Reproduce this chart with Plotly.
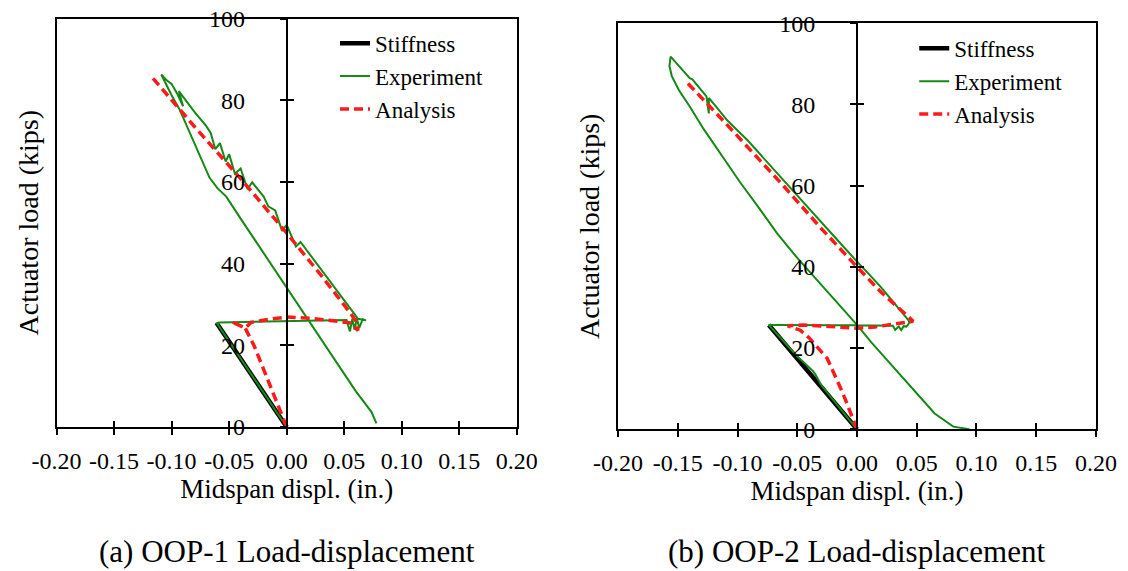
import plotly.graph_objects as go

# ---------------- data ----------------
x_tick_vals = [-0.20, -0.15, -0.10, -0.05, 0.00, 0.05, 0.10, 0.15, 0.20]
x_tick_text = ["-0.20", "-0.15", "-0.10", "-0.05", "0.00", "0.05", "0.10", "0.15", "0.20"]
y_tick_vals = [0, 20, 40, 60, 80, 100]
y_tick_text = ["0", "20", "40", "60", "80", "100"]

# (a) OOP-1
stiff1_x = [0.0, -0.061]
stiff1_y = [0.0, 25.5]

exp1_x = [0.0, -0.02, -0.04, -0.0606, -0.058, -0.04, -0.02, 0.0, 0.02, 0.04, 0.052,
          0.055, 0.057, 0.059, 0.061, 0.063, 0.066, 0.069, 0.064, 0.062,
          0.05, 0.04, 0.03, 0.02, 0.012, 0.008, 0.004, 0.0, -0.004, -0.01, -0.016,
          -0.02, -0.03, -0.034, -0.04, -0.045, -0.05, -0.053, -0.058, -0.062, -0.066,
          -0.07, -0.08, -0.088, -0.0937, -0.09, -0.095, -0.1, -0.104, -0.109,
          -0.104, -0.1, -0.093, -0.085, -0.075, -0.067, -0.06, -0.0525, -0.04, -0.02,
          0.0, 0.02, 0.04, 0.06, 0.0736, 0.078]
exp1_y = [0.0, 8.4, 16.8, 25.4, 25.6, 25.7, 25.8, 25.9, 26.0, 26.1, 26.2,
          23.4, 26.5, 23.8, 26.6, 24.2, 26.4, 26.1, 26.3, 26.5,
          31.0, 34.7, 38.4, 42.1, 45.3, 44.2, 47.0, 49.5, 48.0, 53.0, 54.0,
          56.4, 59.9, 58.2, 63.3, 62.0, 66.8, 65.0, 69.5, 68.0, 72.0,
          73.7, 77.1, 80.0, 82.2, 78.5, 81.5, 84.0, 84.8, 86.3,
          83.5, 81.2, 77.7, 72.6, 66.3, 61.0, 58.4, 56.4, 51.0, 42.6,
          34.2, 25.7, 17.3, 8.8, 3.7, 0.9]

ana1_x = [0.0, -0.014, -0.028, -0.036, -0.048, -0.036, -0.031, -0.015, 0.0, 0.02, 0.04,
          0.055, 0.062, 0.06, 0.055, 0.03, 0.0, -0.04, -0.08, -0.119]
ana1_y = [0.0, 10.0, 19.7, 24.2, 25.8, 24.2, 25.6, 26.4, 26.9, 26.6, 26.0,
          25.5, 23.6, 26.0, 28.0, 37.1, 47.5, 60.8, 73.5, 86.3]

# (b) OOP-2
stiff2_x = [0.0, -0.0738]
stiff2_y = [0.0, 25.7]

exp2_x = [0.0, -0.015, -0.03, -0.035, -0.037, -0.05, -0.0739, -0.06, -0.04, -0.02, 0.0,
          0.02, 0.03, 0.032, 0.035, 0.037, 0.039, 0.0414, 0.044, 0.043,
          0.03, 0.02, 0.01, 0.0, -0.02, -0.028, -0.04, -0.06, -0.074, -0.08, -0.092,
          -0.1, -0.1086, -0.12, -0.124, -0.124, -0.126, -0.1378, -0.14, -0.15, -0.156,
          -0.157, -0.155, -0.149, -0.14, -0.128, -0.113, -0.098, -0.083, -0.067, -0.05,
          -0.036, -0.018, 0.0, 0.012, 0.025, 0.0375, 0.05, 0.065, 0.0806, 0.094]
exp2_y = [0.0, 5.4, 10.9, 13.6, 14.4, 18.0, 25.7, 25.7, 25.6, 25.6, 25.6,
          25.5, 25.5, 24.5, 25.3, 24.4, 25.4, 25.3, 26.3, 26.9,
          31.5, 35.0, 38.2, 41.3, 47.8, 50.4, 54.3, 60.7, 65.2, 67.2, 71.3,
          73.6, 76.1, 80.2, 81.6, 77.8, 82.0, 86.2, 86.5, 89.8, 91.8,
          89.5, 87.0, 83.5, 79.5, 73.8, 67.3, 60.9, 54.9, 48.3, 42.2,
          37.6, 31.7, 25.7, 21.4, 17.1, 13.0, 8.9, 3.9, 0.65, 0.0]

ana2_x = [0.0, -0.012, -0.025, -0.04, -0.0475, -0.058, -0.045, -0.02, 0.0, 0.015, 0.025,
          0.0375, 0.047, 0.042, 0.02, 0.0, -0.03, -0.061, -0.09, -0.11, -0.1425]
ana2_y = [0.0, 9.0, 17.5, 22.5, 24.4, 25.5, 25.7, 25.3, 24.9, 25.2, 25.7,
          26.3, 26.6, 28.0, 33.8, 40.0, 49.5, 59.8, 69.1, 75.4, 85.5]

# ---------------- styling ----------------
FONT = "Liberation Serif"
GREEN = "#138a13"
RED = "#ff1a1a"

fig = go.Figure()

panels = [
    dict(xa="x", ya="y", legend="legend", sx=stiff1_x, sy=stiff1_y,
         ex=exp1_x, ey=exp1_y, ax=ana1_x, ay=ana1_y),
    dict(xa="x2", ya="y2", legend="legend2", sx=stiff2_x, sy=stiff2_y,
         ex=exp2_x, ey=exp2_y, ax=ana2_x, ay=ana2_y),
]

for p in panels:
    fig.add_trace(go.Scatter(x=p["sx"], y=p["sy"], mode="lines", name="Stiffness",
                             line=dict(color="black", width=4.5),
                             xaxis=p["xa"], yaxis=p["ya"], legend=p["legend"]))
    fig.add_trace(go.Scatter(x=p["ex"], y=p["ey"], mode="lines", name="Experiment",
                             line=dict(color=GREEN, width=2),
                             xaxis=p["xa"], yaxis=p["ya"], legend=p["legend"]))
    fig.add_trace(go.Scatter(x=p["ax"], y=p["ay"], mode="lines", name="Analysis",
                             line=dict(color=RED, width=3.5, dash="9px,5px"),
                             xaxis=p["xa"], yaxis=p["ya"], legend=p["legend"]))

# empty helper traces so the overlay axes (crossing ticks, centre axis) are drawn
for xa, ya in [("x3", "y"), ("x", "y3"), ("x", "y5"),
               ("x4", "y2"), ("x2", "y4"), ("x2", "y6")]:
    fig.add_trace(go.Scatter(x=[None], y=[None], mode="lines", showlegend=False,
                             hoverinfo="skip", xaxis=xa, yaxis=ya))

xdom1 = [0.0501, 0.4582]
xdom2 = [0.5479, 0.9716]
ydom1 = [0.2522, 0.9676]
ydom2 = [0.2482, 0.9592]

TICKFONT = dict(family=FONT, size=24, color="black")


def x_main(dom, anchor):
    return dict(domain=dom, anchor=anchor, range=[-0.2, 0.2], tickvals=x_tick_vals,
                ticktext=x_tick_text, ticks="outside", ticklen=6, tickwidth=2,
                tickcolor="black", showline=True, linewidth=2, linecolor="black",
                mirror=True, showgrid=False, zeroline=False, tickfont=TICKFONT,
                automargin=False, ticklabelstandoff=5,
                title=dict(text="Midspan displ. (in.)", font=dict(family=FONT, size=27),
                           standoff=6))


def x_inner(over, anchor):
    return dict(overlaying=over, anchor=anchor, range=[-0.2, 0.2], tickvals=x_tick_vals,
                ticks="inside", ticklen=6, tickwidth=2, tickcolor="black",
                showticklabels=False, showline=False, showgrid=False, zeroline=False,
                automargin=False)


def y_main(dom, anchor):
    return dict(domain=dom, anchor=anchor, range=[0, 100], ticks="", showticklabels=False,
                showline=True, linewidth=2, linecolor="black", mirror=True,
                showgrid=False, zeroline=False, automargin=False,
                title=dict(text="Actuator load (kips)", font=dict(family=FONT, size=28),
                           standoff=8))


def y_center(over, pos):
    return dict(overlaying=over, anchor="free", position=pos, side="left", range=[0, 100],
                tickvals=y_tick_vals, ticktext=y_tick_text, ticks="outside", ticklen=6,
                tickwidth=2, tickcolor="black", showline=True, linewidth=2,
                linecolor="black", showgrid=False, zeroline=False, tickfont=TICKFONT,
                ticklabelstandoff=30, automargin=False)


def y_inner(over, pos):
    return dict(overlaying=over, anchor="free", position=pos, side="left", range=[0, 100],
                tickvals=y_tick_vals, ticks="inside", ticklen=6, tickwidth=2,
                tickcolor="black", showticklabels=False, showline=False,
                showgrid=False, zeroline=False, automargin=False)


pos1 = (xdom1[0] + xdom1[1]) / 2
pos2 = (xdom2[0] + xdom2[1]) / 2

legend_style = dict(font=dict(family=FONT, size=23, color="black"),
                    bgcolor="rgba(0,0,0,0)", borderwidth=0, xanchor="left",
                    yanchor="top", itemwidth=30)

fig.update_layout(
    width=1128, height=571,
    margin=dict(l=0, r=0, t=0, b=0, autoexpand=False),
    paper_bgcolor="white", plot_bgcolor="white",
    font=dict(family=FONT, color="black"),
    xaxis=x_main(xdom1, "y"), xaxis2=x_main(xdom2, "y2"),
    xaxis3=x_inner("x", "y"), xaxis4=x_inner("x2", "y2"),
    yaxis=y_main(ydom1, "x"), yaxis2=y_main(ydom2, "x2"),
    yaxis3=y_center("y", pos1), yaxis4=y_center("y2", pos2),
    yaxis5=y_inner("y", pos1), yaxis6=y_inner("y2", pos2),
    legend=dict(x=0.297, y=0.962, **legend_style),
    legend2=dict(x=0.8105, y=0.953, **legend_style),
    annotations=[
        dict(text="(a) OOP-1 Load-displacement", x=pos1, y=0.035, xref="paper",
             yref="paper", xanchor="center", yanchor="middle", showarrow=False,
             font=dict(family=FONT, size=31, color="black")),
        dict(text="(b) OOP-2 Load-displacement", x=pos2, y=0.035, xref="paper",
             yref="paper", xanchor="center", yanchor="middle", showarrow=False,
             font=dict(family=FONT, size=31, color="black")),
    ],
)

fig.write_html("out.html")
